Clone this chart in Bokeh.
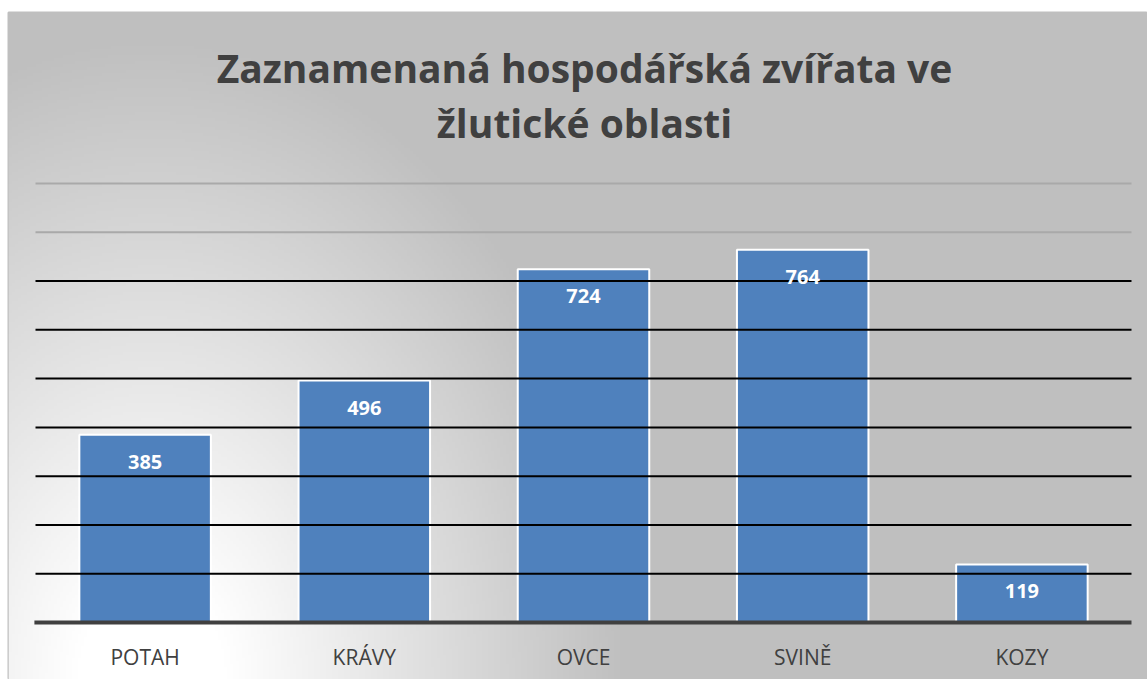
import numpy as np
from bokeh.plotting import figure
from bokeh.models import Range1d, Label
from bokeh.core.properties import value
from bokeh.embed import file_html
from bokeh.resources import INLINE

# ---- data ----
categories = ["POTAH", "KRÁVY", "OVCE", "SVINĚ", "KOZY"]
counts = [385, 496, 724, 764, 119]
grid_values = [100, 200, 300, 400, 500, 600, 700, 800, 900]
title_lines = ["Zaznamenaná hospodářská zvířata ve", "žlutické oblasti"]

W, H = 1147, 679
LEFT, TOP = 8, 12
FONT = "Open Sans"

xs = [i + 0.5 for i in range(len(categories))]

p = figure(width=W, height=H, output_backend="svg", toolbar_location=None,
           x_axis_type=None, y_axis_type=None,
           x_range=Range1d(-0.1232, 5.073), y_range=Range1d(-116.9, 1250.6),
           min_border_left=LEFT, min_border_right=0, min_border_bottom=0,
           min_border_top=TOP, border_fill_color="white",
           background_fill_color="#bfbfbf", outline_line_color="#c0c0c0",
           outline_line_width=2)
p.grid.visible = False

# page-pixel ranges for background and titles
p.extra_x_ranges = {"px": Range1d(LEFT, W)}
p.extra_y_ranges = {"py": Range1d(H, TOP)}

# radial gradient background (white lower-left to grey)
f = 3
fw, fh = W - LEFT, H - TOP
gw, gh = fw // f + 1, fh // f + 1
gx = LEFT + np.arange(gw) * f
gy = TOP + np.arange(gh) * f
X, Y = np.meshgrid(gx, gy)
r = np.sqrt(((X - 150) / 500.0) ** 2 + ((Y - 680) / 680.0) ** 2)
t = np.clip((r - 0.15) / 0.8, 0, 1)
v = (255 - (255 - 191) * t).astype(np.uint8)
img = np.empty((gh, gw), dtype=np.uint32)
view = img.view(dtype=np.uint8).reshape((gh, gw, 4))
view[:, :, 0] = v
view[:, :, 1] = v
view[:, :, 2] = v
view[:, :, 3] = 255
p.image_rgba(image=[img], x=LEFT, y=TOP, dw=gw * f, dh=gh * f,
             x_range_name="px", y_range_name="py")

# bars
p.vbar(x=xs, top=counts, bottom=0, width=0.6, fill_color="#4f81bd",
       line_color="white", line_width=2)

# gridlines (drawn over bars)
n = len(categories)
dark = [g for g in grid_values if g <= 700]
light = [g for g in grid_values if g > 700]
p.segment(x0=[0] * len(light), x1=[n] * len(light), y0=light, y1=light,
          line_color="#a9a9a9", line_width=2)
p.segment(x0=[0] * len(dark), x1=[n] * len(dark), y0=dark, y1=dark,
          line_color="black", line_width=2)
# baseline
p.segment(x0=[-0.005], x1=[n], y0=[0], y1=[0], line_color="#404040", line_width=4)

# value labels
p.text(x=xs, y=counts, text=[str(c) for c in counts], y_offset=27,
       text_align="center", text_baseline="middle", text_color="white",
       text_font=value(FONT), text_font_style="bold", text_font_size="20px")

# category labels
p.text(x=xs, y=[0] * n, text=categories, y_offset=35,
       text_align="center", text_baseline="middle", text_color="#404040",
       text_font=value(FONT), text_font_size="21px")

# title
for i, line in enumerate(title_lines):
    p.add_layout(Label(x=584, y=67 + i * 55, text=line, x_range_name="px",
                       y_range_name="py", text_align="center",
                       text_baseline="alphabetic", text_color="#404040",
                       text_font=FONT, text_font_style="bold",
                       text_font_size="39px"))

open("out.html", "w").write(file_html(p, INLINE))
